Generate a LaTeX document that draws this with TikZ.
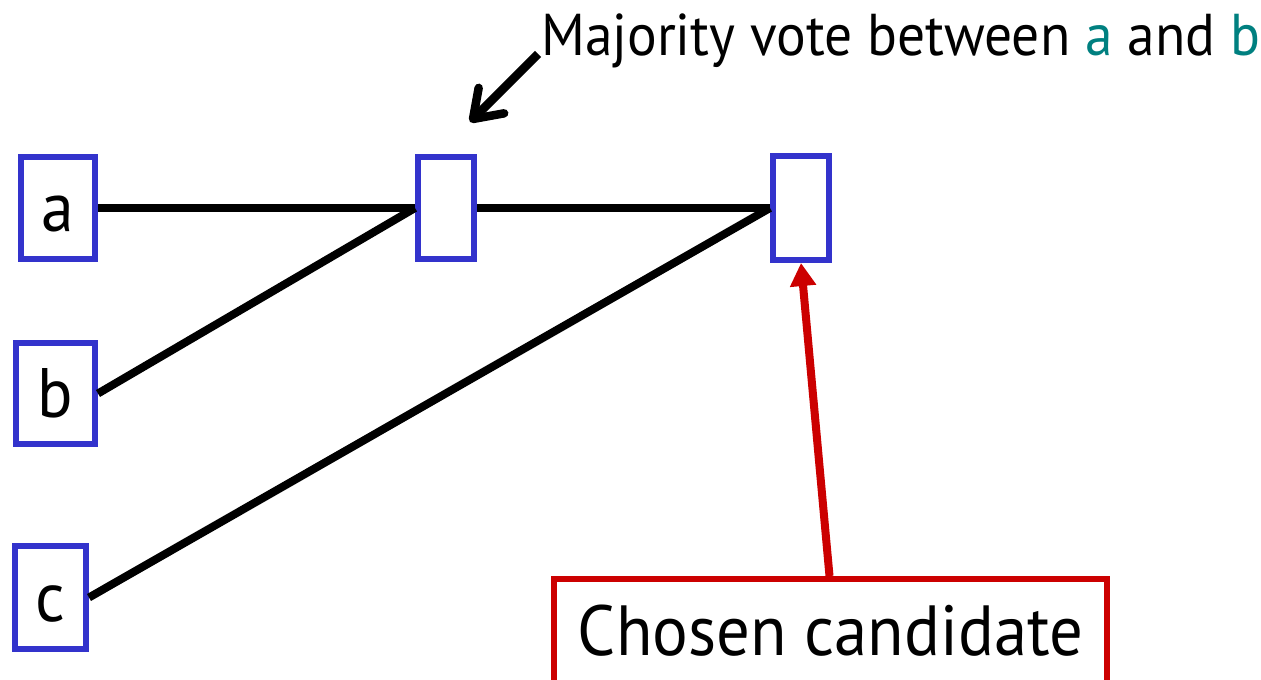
\documentclass[tikz,border=0pt]{standalone}
\usepackage{fontspec}
\setmainfont[FakeStretch=0.94]{PT Sans}
\usetikzlibrary{arrows.meta}
\definecolor{boxblue}{RGB}{51,51,204}
\definecolor{candred}{RGB}{204,0,0}
\definecolor{votecol}{RGB}{0,128,128}

\begin{document}
\begin{tikzpicture}[x=1pt,y=-1pt,
  cell/.style={draw=boxblue, line width=6pt, inner sep=0pt,
    text height=47pt, text depth=0pt,
    font=\fontsize{70}{80}\selectfont},
  wire/.style={line width=8pt},
  pointer/.style={line width=8.5pt, -{Straight Barb[length=26pt,width=36pt,round]}},
  pick/.style={draw=candred, line width=8pt, -{Triangle[length=23pt,width=25pt]}},
  ]
\useasboundingbox (0,0) rectangle (1261,680);

% candidate inputs
\node[cell, minimum width=74pt, minimum height=102pt] (a) at (58,208) {a};
\node[cell, minimum width=79pt, minimum height=101pt] (b) at (55.5,393.5) {b};
\node[cell, minimum width=71pt, minimum height=103pt] (c) at (50.5,597.5) {c};

% voting stages
\node[cell, minimum width=56pt, minimum height=102pt] (mid) at (446,208) {};
\node[cell, minimum width=56pt, minimum height=104pt] (out) at (801,208) {};

% wiring
\draw[wire] (a.east) -- (mid.west);
\draw[wire] (b.east) -- (mid.west);
\draw[wire] (mid.east) -- (out.west);
\draw[wire] (c.east) -- (out.west);

% annotation for the first vote
\node[anchor=base west, inner sep=0pt, font=\fontsize{59}{70}\selectfont] (vote) at (541,55)
  {Majority vote between \textcolor{votecol}{a} and \textcolor{votecol}{b}};
\coordinate (vtail) at (538,54);
\coordinate (vtip) at (470,122);
\draw[pointer] (vtail) -- (vtip);

% result
\node[draw=candred, line width=6pt, minimum width=553pt, minimum height=107pt, inner sep=0pt,
  text height=45pt, text depth=0pt,
  font=\fontsize{71}{80}\selectfont] (cand) at (830.5,632.5) {Chosen candidate};
\draw[pick] ([xshift=-1pt]cand.north) -- (out.south);
\end{tikzpicture}
\end{document}
